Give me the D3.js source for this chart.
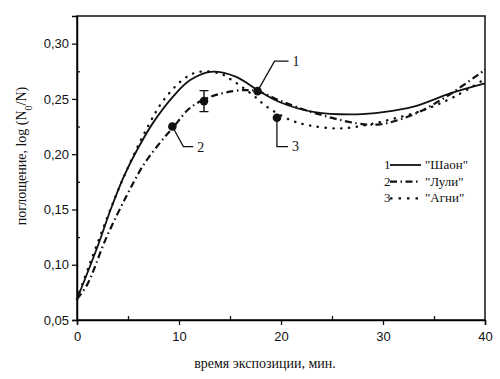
<!DOCTYPE html>
<html>
<head>
<meta charset="utf-8">
<script src="https://cdn.jsdelivr.net/npm/d3@7"></script>
<style>
  body { margin: 0; background: #fff; }
  .tick text { font-family: "Liberation Sans", Arial, sans-serif; font-size: 13px; fill: #111; }
  .serif { font-family: "Liberation Serif", "Times New Roman", serif; fill: #111; }
</style>
</head>
<body>
<div class="chart"></div>
<script>
// series 1 "Шаон" (solid)
const x1 = [0, 2, 3.3, 4.6, 5.9, 7.5, 9.5, 11.1, 13.1, 15.6, 17.7, 19.9, 23.3, 27.4, 30, 33, 36.6, 40];
const y1 = [0.069, 0.116, 0.150, 0.180, 0.204, 0.229, 0.253, 0.267, 0.2745, 0.270, 0.258, 0.247, 0.238, 0.236, 0.238, 0.243, 0.255, 0.264];
// series 2 "Лули" (dash-dot)
const x2 = [0, 1, 2.9, 4.9, 6.5, 8.2, 9.5, 11.1, 13.1, 15.3, 16.7, 17.7, 20, 23.2, 27.4, 29.7, 33, 36.2, 40];
const y2 = [0.069, 0.082, 0.125, 0.163, 0.190, 0.211, 0.225, 0.242, 0.252, 0.257, 0.258, 0.257, 0.248, 0.2375, 0.228, 0.227, 0.236, 0.252, 0.2765];
// series 3 "Агни" (dotted)
const x3 = [0, 1.3, 3.4, 4.9, 7, 8.5, 10.6, 12, 14, 15.2, 16.3, 17.45, 18.6, 20.9, 22.8, 25.8, 28.7, 31, 34, 37, 40];
const y3 = [0.069, 0.102, 0.153, 0.186, 0.226, 0.249, 0.269, 0.2745, 0.273, 0.267, 0.260, 0.252, 0.243, 0.231, 0.226, 0.2233, 0.227, 0.232, 0.240, 0.252, 0.268];

// measured points, labels and error
const ptX = [9.35, 12.45, 17.7, 19.6];
const ptY = [0.225, 0.248, 0.257, 0.233];
const ptErr = [0, 0.0095, 0, 0];
const ptLabel = ['2', '', '1', '3'];

const seriesNames = ['"Шаон"', '"Лули"', '"Агни"'];
const xTicks = [0, 10, 20, 30, 40];
const yTicks = [0.05, 0.10, 0.15, 0.20, 0.25, 0.30];

const margin = { top: 16, right: 15, bottom: 59, left: 77 },
    width = 500 - margin.left - margin.right,
    height = 379 - margin.top - margin.bottom;

const svg = d3.select('.chart')
    .append('svg')
    .attr('width', width + margin.left + margin.right)
    .attr('height', height + margin.top + margin.bottom)
    .append('g')
    .attr('transform', `translate(${margin.left},${margin.top})`);

const x = d3.scaleLinear().domain([0, 40]).range([0, width]);
const y = d3.scaleLinear().domain([0.05, 0.325]).range([height, 0]);

const fmt = d => d3.format('.2f')(d).replace('.', ',');

// frame
svg.append('rect')
    .attr('width', width)
    .attr('height', height)
    .attr('fill', 'none')
    .attr('stroke', '#111')
    .attr('stroke-width', 1.5);

// minor ticks
svg.append('g')
    .attr('transform', `translate(0,${height})`)
    .call(d3.axisTop(x).tickValues([5, 15, 25, 35]).tickSize(4).tickFormat(''))
    .call(g => g.select('.domain').remove());
svg.append('g')
    .call(d3.axisRight(y).tickValues([0.075, 0.125, 0.175, 0.225, 0.275]).tickSize(3).tickFormat(''))
    .call(g => g.select('.domain').remove());

svg.append('g')
    .attr('class', 'x_axis')
    .attr('transform', `translate(0,${height})`)
    .call(d3.axisBottom(x).tickValues(xTicks).tickSize(5).tickPadding(7))
    .call(g => g.select('.domain').attr('stroke-width', 1.5));

svg.append('g')
    .attr('class', 'y_axis')
    .call(d3.axisLeft(y).tickValues(yTicks).tickFormat(fmt).tickSize(5).tickPadding(3))
    .call(g => g.select('.domain').attr('stroke-width', 1.5));

svg.selectAll('.tick line').attr('stroke', '#111').attr('stroke-width', 1.3);

// axis titles
svg.append('text')
    .attr('class', 'serif')
    .attr('x', 188)
    .attr('y', height + 48)
    .attr('text-anchor', 'middle')
    .style('font-size', '14px')
    .text('время экспозиции, мин.');

const yLabel = svg.append('text')
    .attr('class', 'serif')
    .attr('transform', 'rotate(-90)')
    .attr('x', -140)
    .attr('y', -51)
    .attr('text-anchor', 'middle')
    .style('font-size', '14px');
yLabel.append('tspan').text('поглощение, log (N');
yLabel.append('tspan').text('0').attr('baseline-shift', 'sub').style('font-size', '10px');
yLabel.append('tspan').text('/N)');

// curves
const styles = [
    { dash: null, width: 1.8, cap: 'butt' },
    { dash: '7,3.5,1.5,3.5', width: 2.2, cap: 'butt' },
    { dash: '0.3,7.5', width: 2.4, cap: 'round' }
];
const series = [[x1, y1], [x2, y2], [x3, y3]];

const line = d3.line()
    .x(d => x(d[0]))
    .y(d => y(d[1]))
    .curve(d3.curveCatmullRom.alpha(0.5));

series.forEach((s, i) => {
    svg.append('path')
        .datum(s[0].map((v, j) => [v, s[1][j]]))
        .attr('d', line)
        .attr('fill', 'none')
        .attr('stroke', '#111')
        .attr('stroke-width', styles[i].width)
        .attr('stroke-linecap', styles[i].cap)
        .attr('stroke-dasharray', styles[i].dash);
});

// points
const pts = ptX.map((v, i) => ({ x: v, y: ptY[i], e: ptErr[i], label: ptLabel[i] }));

svg.selectAll('.err')
    .data(pts.filter(d => d.e > 0))
    .join('path')
    .attr('class', 'err')
    .attr('d', d => {
        const cx = x(d.x), t = y(d.y + d.e), b = y(d.y - d.e);
        return `M${cx - 4.5},${t}H${cx + 4.5}M${cx},${t}V${b}M${cx - 4.5},${b}H${cx + 4.5}`;
    })
    .attr('fill', 'none')
    .attr('stroke', '#111')
    .attr('stroke-width', 1.4);

svg.selectAll('circle')
    .data(pts)
    .join('circle')
    .attr('cx', d => x(d.x))
    .attr('cy', d => y(d.y))
    .attr('r', 4.3)
    .attr('fill', '#111');

// leaders: offsets from point [bend dx, bend dy, end dx, text dx, text dy]
const leaders = { '1': [17, -30, 31, 35, -25], '2': [11, 20, 21, 25, 25], '3': [0, 29, 11, 15, 33] };

pts.filter(d => d.label).forEach(d => {
    const o = leaders[d.label], cx = x(d.x), cy = y(d.y);
    svg.append('path')
        .attr('d', `M${cx},${cy}L${cx + o[0]},${cy + o[1]}H${cx + o[2]}`)
        .attr('fill', 'none')
        .attr('stroke', '#111')
        .attr('stroke-width', 1.3);
    svg.append('text')
        .attr('class', 'serif')
        .attr('x', cx + o[3])
        .attr('y', cy + o[4])
        .style('font-size', '14px')
        .text(d.label);
});

// legend
const legend = svg.append('g')
    .attr('class', 'legend')
    .attr('transform', 'translate(307,153)');

seriesNames.forEach((name, i) => {
    const g = legend.append('g').attr('transform', `translate(0,${i * 16.7})`);
    g.append('text')
        .attr('class', 'serif')
        .attr('x', 0)
        .attr('y', 0)
        .style('font-size', '13px')
        .text(i + 1);
    g.append('line')
        .attr('x1', 6).attr('x2', 37)
        .attr('y1', -4).attr('y2', -4)
        .attr('stroke', '#111')
        .attr('stroke-width', styles[i].width)
        .attr('stroke-linecap', 'butt')
        .attr('stroke-dasharray', i === 2 ? '2.5,6' : styles[i].dash);
    g.append('text')
        .attr('class', 'serif')
        .attr('x', 41)
        .attr('y', 0)
        .style('font-size', '13px')
        .text(name);
});
</script>
</body>
</html>
